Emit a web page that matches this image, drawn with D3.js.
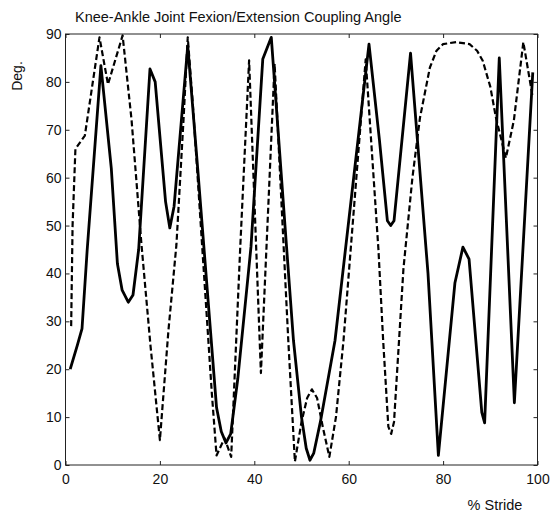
<!DOCTYPE html>
<html>
<head>
<meta charset="utf-8">
<script src="https://cdn.jsdelivr.net/npm/d3@7"></script>
<style>
  body { margin: 0; background: #fff; }
  text { font-family: "Liberation Sans", Arial, sans-serif; fill: #111; }
  .frame { fill: none; stroke: #222; stroke-width: 1; }
  .tick line { stroke: #222; }
</style>
</head>
<body>
<div id="chart"></div>
<script>
// % stride positions and coupling angles
const solidX = [1, 2.5, 3.5, 4.6, 7.5, 9.7, 11, 12, 13.3, 14.3, 15.5, 17.9, 19, 21.2, 22.1, 23,
  25.9, 28, 32, 33, 34, 35, 36.5, 39.3, 41.8, 43.6, 46.5, 48.3, 50, 51, 51.8, 52.6, 54, 57.1,
  64.3, 66.5, 68.2, 68.9, 69.6, 73.1, 76.8, 79, 82.5, 84.2, 85.5, 88.2, 88.8, 91.9, 95.1, 99];
const solidY = [20, 25, 28.5, 45, 83.4, 62, 42, 36.5, 34, 35.5, 45, 82.7, 80, 55, 49.5, 54,
  87.5, 62, 12, 7, 4.6, 6.5, 18, 45.6, 84.8, 89.3, 50, 26, 10, 3.5, 1, 2.5, 9, 26,
  87.9, 68, 51, 50, 51, 86, 40, 2, 38, 45.5, 43, 11, 8.8, 85, 13, 82];

const dashX = [1.2, 1.5, 2.1, 4.1, 6.2, 7.2, 9, 12.1, 14, 16.1, 18, 20, 21.8, 23.5, 25, 25.9,
  27, 29, 31, 32, 33.7, 35.1, 37, 38.9, 41.4, 44.3, 47.2, 48.6, 50, 51.2, 52.2, 53.3, 54.5,
  55.9, 57.3, 58.9, 63.6, 66.3, 67.3, 68.4, 69, 69.6, 71.6, 73.5, 75.1, 77.2, 78.6, 80,
  82.8, 85.6, 87.2, 88.4, 90, 91.2, 93.3, 95, 97, 99];
const dashY = [29, 50, 66, 68.8, 82.7, 89.3, 79.5, 89.7, 72, 46, 25, 5.2, 28, 46, 72, 89.3,
  75, 45, 15, 2, 5.6, 1.7, 45, 84.5, 19.2, 83.8, 26, 0.7, 9, 14, 15.8, 14, 8,
  1.7, 10, 26, 84.7, 45, 26, 8, 6.5, 9, 41, 60, 72.5, 83, 86.5, 87.9,
  88.3, 87.9, 86.5, 84.4, 79, 72.5, 64.1, 72, 88.3, 76.7];

const xTicks = [0, 20, 40, 60, 80, 100];
const yTicks = [0, 10, 20, 30, 40, 50, 60, 70, 80, 90];

const width = 553, height = 515;
const margin = { top: 34, right: 15.5, bottom: 50, left: 65.5 };
const w = width - margin.left - margin.right;
const h = height - margin.top - margin.bottom;

const svg = d3.select("#chart").append("svg")
  .attr("width", width)
  .attr("height", height);

const g = svg.append("g")
  .attr("transform", `translate(${margin.left},${margin.top})`);

const x = d3.scaleLinear().domain([0, 100]).range([0, w]);
const y = d3.scaleLinear().domain([0, 90]).range([h, 0]);

// axes with inward ticks (matlab style)
g.append("g")
  .attr("transform", `translate(0,${h})`)
  .call(d3.axisBottom(x).tickValues(xTicks).tickSize(-4).tickPadding(9))
  .call(a => a.select(".domain").remove())
  .selectAll("text").style("font-size", "14px");

g.append("g")
  .call(d3.axisLeft(y).tickValues(yTicks).tickSize(-4).tickPadding(4))
  .call(a => a.select(".domain").remove())
  .selectAll("text").style("font-size", "14px");

g.append("g")
  .call(d3.axisTop(x).tickValues(xTicks).tickSize(-4).tickFormat(""))
  .call(a => a.select(".domain").remove());

g.append("g")
  .attr("transform", `translate(${w},0)`)
  .call(d3.axisRight(y).tickValues(yTicks).tickSize(-4).tickFormat(""))
  .call(a => a.select(".domain").remove());

g.append("rect").attr("class", "frame")
  .attr("width", w).attr("height", h);

const line = d3.line()
  .x(d => x(d[0]))
  .y(d => y(d[1]));

g.append("path")
  .datum(dashX.map((v, i) => [v, dashY[i]]))
  .attr("fill", "none")
  .attr("stroke", "#000")
  .attr("stroke-width", 2.2)
  .attr("stroke-dasharray", "6,3")
  .attr("stroke-linejoin", "round")
  .attr("d", line);

g.append("path")
  .datum(solidX.map((v, i) => [v, solidY[i]]))
  .attr("fill", "none")
  .attr("stroke", "#000")
  .attr("stroke-width", 2.8)
  .attr("stroke-linejoin", "round")
  .attr("d", line);

svg.append("text")
  .attr("x", 75).attr("y", 22)
  .style("font-size", "14.5px")
  .text("Knee-Ankle Joint Fexion/Extension Coupling Angle");

svg.append("text")
  .attr("transform", "translate(22,76) rotate(-90)")
  .attr("text-anchor", "middle")
  .style("font-size", "14px")
  .text("Deg.");

svg.append("text")
  .attr("x", 495).attr("y", 510)
  .attr("text-anchor", "middle")
  .style("font-size", "14.5px")
  .text("% Stride");
</script>
</body>
</html>
